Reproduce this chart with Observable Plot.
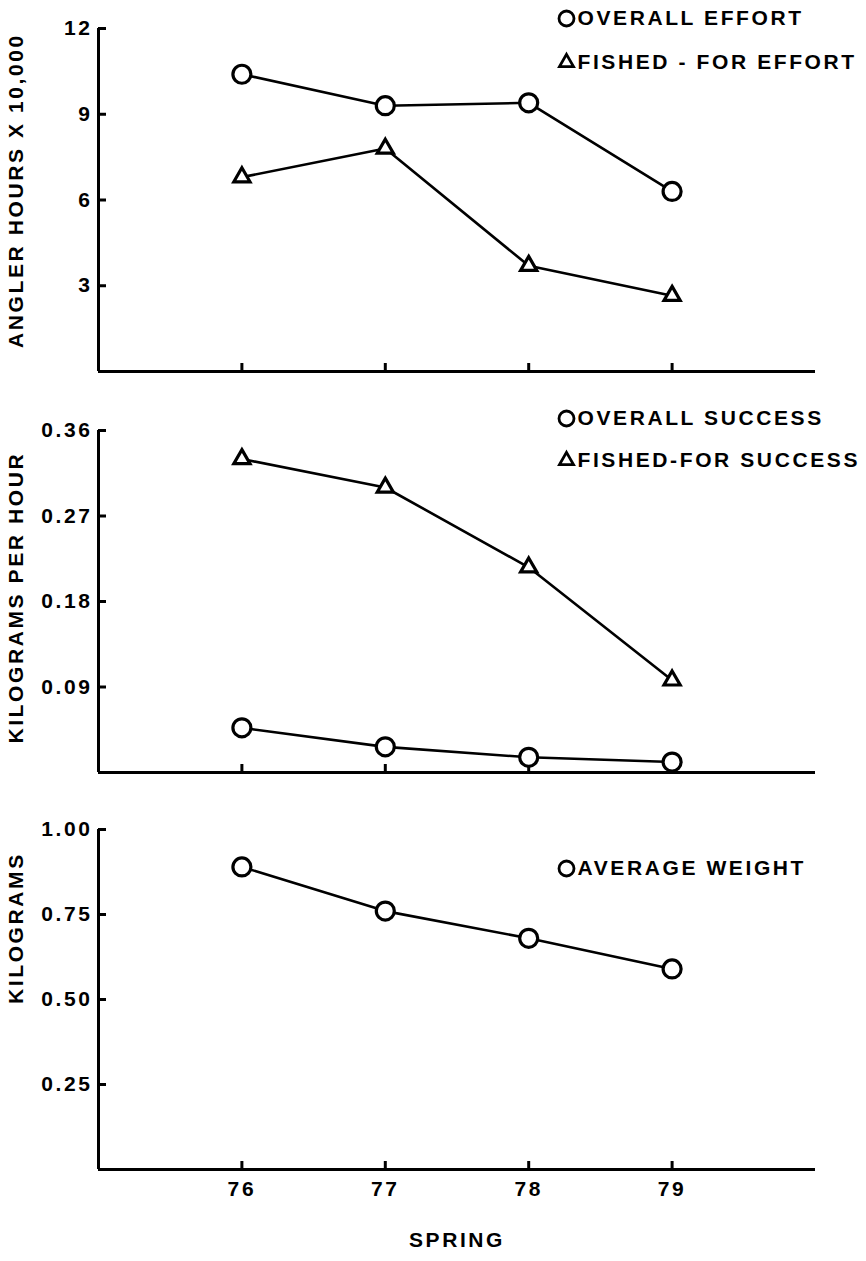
<!DOCTYPE html>
<html><head><meta charset="utf-8">
<script src="https://cdn.jsdelivr.net/npm/d3@7"></script>
<script src="https://cdn.jsdelivr.net/npm/@observablehq/plot@0.6"></script>
<style>body{margin:0;background:#fff} #chart svg{display:block}</style>
</head><body><div id="chart"></div><script>
// x categories (spring of year)
const years = [76, 77, 78, 79];
const xDomain = [75, 80];

// Panel 1: angler hours x 10,000
const overallEffort = [10.4, 9.3, 9.4, 6.3];
const fishedForEffort = [6.8, 7.8, 3.7, 2.65];
const effortTicks = [3, 6, 9, 12];

// Panel 2: kilograms per hour
const overallSuccess = [0.047, 0.027, 0.016, 0.011];
const fishedForSuccess = [0.33, 0.30, 0.216, 0.097];
const successTicks = [0.09, 0.18, 0.27, 0.36];

// Panel 3: kilograms
const averageWeight = [0.89, 0.76, 0.68, 0.59];
const weightTicks = [0.25, 0.50, 0.75, 1.00];

const style = {fontFamily: "'Liberation Sans', Arial, sans-serif", fontSize: "21px", fontWeight: "bold", letterSpacing: "2.6px", background: "white", color: "black", overflow: "visible"};

function panel(o) {
  const marks = [
    Plot.ruleX([xDomain[0]], {strokeWidth: 3}),
    Plot.ruleY([0], {strokeWidth: 3}),
    Plot.axisY(o.yTicks, {anchor: "left", label: null, tickSize: -8, tickPadding: 14, strokeWidth: 3, tickFormat: o.yFormat}),
    Plot.axisX(years, {anchor: "bottom", label: null, tickSize: -8, tickPadding: 20, strokeWidth: 3, tickFormat: o.showX ? d => String(d) : () => ""}),
    Plot.text([o.yLabel], {frameAnchor: "left", y: o.yLabelAt, dx: -82, rotate: -90, textAnchor: "middle", lineAnchor: "middle"})
  ];
  const sets = o.series.map(s => ({...s, data: years.map((x, i) => ({x, y: s.values[i]}))}));
  for (const s of sets) marks.push(Plot.line(s.data, {x: "x", y: "y", stroke: "black", strokeWidth: 2.6}));
  for (const s of sets) marks.push(Plot.dot(s.data, {x: "x", y: "y", symbol: s.symbol, r: s.symbol === "circle" ? 9 : 6, stroke: "black", strokeWidth: 3.2, fill: "white"}));
  o.series.forEach((s, i) => {
    const dy = o.legendDy[i];
    marks.push(Plot.dot([s], {frameAnchor: "top-left", dx: 468, dy, symbol: s.symbol, r: s.symbol === "circle" ? 7.5 : 5.2, stroke: "black", strokeWidth: 2.8, fill: "white"}));
    marks.push(Plot.text([s.label], {frameAnchor: "top-left", dx: 479, dy, textAnchor: "start", lineAnchor: "middle"}));
  });
  if (o.xLabel) marks.push(Plot.text([o.xLabel], {frameAnchor: "bottom", dy: 71, lineAnchor: "middle"}));
  return Plot.plot({
    width: 866, height: o.height, marginTop: o.marginTop, marginBottom: o.marginBottom,
    marginLeft: 98, marginRight: 51,
    x: {domain: xDomain},
    y: {domain: o.yDomain},
    style, marks
  });
}

const chart = document.getElementById("chart");
chart.append(panel({
  height: 400, marginTop: 28, marginBottom: 29, yDomain: [0, 12], yTicks: effortTicks,
  yFormat: d => String(d), yLabel: "ANGLER HOURS X 10,000", yLabelAt: 6.33,
  series: [
    {label: "OVERALL EFFORT", symbol: "circle", values: overallEffort},
    {label: "FISHED - FOR EFFORT", symbol: "triangle", values: fishedForEffort}
  ], legendDy: [-10, 34]
}));
chart.append(panel({
  height: 400, marginTop: 30, marginBottom: 28, yDomain: [0, 0.36], yTicks: successTicks,
  yFormat: d => d.toFixed(2), yLabel: "KILOGRAMS PER HOUR", yLabelAt: 0.184,
  series: [
    {label: "OVERALL SUCCESS", symbol: "circle", values: overallSuccess},
    {label: "FISHED-FOR SUCCESS", symbol: "triangle", values: fishedForSuccess}
  ], legendDy: [-12, 30]
}));
chart.append(panel({
  height: 461, marginTop: 29, marginBottom: 92, yDomain: [0, 1], yTicks: weightTicks,
  yFormat: d => d.toFixed(2), yLabel: "KILOGRAMS", yLabelAt: 0.71,
  series: [
    {label: "AVERAGE WEIGHT", symbol: "circle", values: averageWeight}
  ], legendDy: [39], showX: true, xLabel: "SPRING"
}));
</script></body></html>
